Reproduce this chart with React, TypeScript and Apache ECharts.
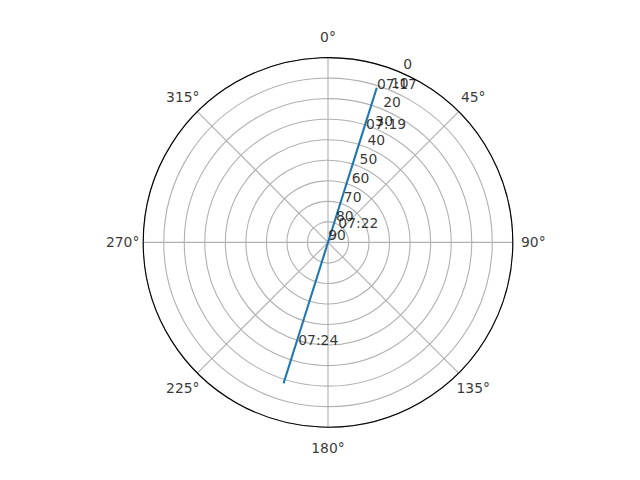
import React, { useEffect, useRef } from "react";
import * as echarts from "echarts";

// Azimuth ticks (degrees, clockwise from north) and their labels
const angleTicks = [0, 45, 90, 135, 180, 225, 270, 315];
const angleTickLabels = ["0°", "45°", "90°", "135°", "180°", "225°", "270°", "315°"];
// Elevation ticks (90 at the centre, 0 at the rim)
const radialTicks = [0, 10, 20, 30, 40, 50, 60, 70, 80, 90];
const radialLabelAngle = 22.5;
const angleLabelRing = -10; // elevation value just beyond the rim where azimuth labels sit

// Satellite pass track
const pathElevation = [11.0, 31.5, 81.0, 38.5, 18.0];
const pathAzimuth = [17.5, 17.5, 17.5, 197.5, 197.5];

// Time annotations
const timeLabels = ["07:17", "07:19", "07:22", "07:24"];
const timeElevation = [11.2, 31.3, 80.8, 38.4];
const timeAzimuth = [17.6, 18.4, 33.3, 196.3];

const FONT = "DejaVu Sans";
const FS = 13.9;

export default function App() {
  const ref = useRef<HTMLDivElement>(null);
  useEffect(() => {
    if (!ref.current) return;
    const chart = echarts.init(ref.current, undefined, { renderer: "svg" });
    const transparent = "rgba(0,0,0,0)";
    chart.setOption({
      animation: false,
      backgroundColor: "#ffffff",
      textStyle: { fontFamily: FONT, fontSize: FS, color: "#000" },
      polar: { center: [328, 242.4], radius: 184.8 },
      angleAxis: {
        type: "value",
        min: 0,
        max: 360,
        interval: 45,
        startAngle: 90,
        clockwise: true,
        axisLine: { show: true, lineStyle: { color: "#000", width: 1.1 } },
        axisTick: { show: false },
        axisLabel: { show: false },
        splitLine: { show: true, lineStyle: { color: "#b0b0b0", width: 1.1 } },
        z: 1,
      },
      radiusAxis: {
        type: "value",
        min: 0,
        max: 90,
        interval: 10,
        inverse: true,
        axisLine: { show: false },
        axisTick: { show: false },
        axisLabel: { show: false },
        splitLine: { show: true, lineStyle: { color: "#b0b0b0", width: 1.1 } },
        z: 1,
      },
      series: [
        {
          type: "line",
          coordinateSystem: "polar",
          data: pathElevation.map((e, i) => [e, pathAzimuth[i]]),
          showSymbol: false,
          lineStyle: { color: "#1f77b4", width: 2.1 },
          z: 2,
        },
        {
          type: "scatter",
          coordinateSystem: "polar",
          symbolSize: 1,
          clip: false,
          itemStyle: { color: transparent },
          silent: true,
          data: radialTicks.map((r) => ({ value: [r, radialLabelAngle], name: String(r) })),
          label: {
            show: true,
            position: "inside",
            formatter: (p: any) => p.name,
            align: "center",
            verticalAlign: "middle",
            offset: [9, -7.5],
            color: "#000",
            fontFamily: FONT,
            fontSize: FS,
          },
          z: 3,
        },
        {
          type: "scatter",
          coordinateSystem: "polar",
          symbolSize: 1,
          clip: false,
          itemStyle: { color: transparent },
          silent: true,
          data: angleTicks.map((a, i) => ({ value: [angleLabelRing, a], name: angleTickLabels[i] })),
          label: {
            show: true,
            position: "inside",
            formatter: (p: any) => p.name,
            align: "center",
            verticalAlign: "middle",
            color: "#000",
            fontFamily: FONT,
            fontSize: FS,
          },
          z: 3,
        },
        {
          type: "scatter",
          coordinateSystem: "polar",
          symbolSize: 1,
          clip: false,
          itemStyle: { color: transparent },
          silent: true,
          data: timeLabels.map((t, i) => ({ value: [timeElevation[i], timeAzimuth[i]], name: t })),
          label: {
            show: true,
            position: "inside",
            formatter: (p: any) => p.name,
            align: "left",
            verticalAlign: "bottom",
            offset: [0, 3],
            color: "#000",
            fontFamily: FONT,
            fontSize: FS,
          },
          z: 4,
        },
      ],
    });
    return () => chart.dispose();
  }, []);
  return (
    <div
      ref={ref}
      style={{ position: "absolute", left: 0, top: 0, width: 640, height: 480 }}
    />
  );
}
